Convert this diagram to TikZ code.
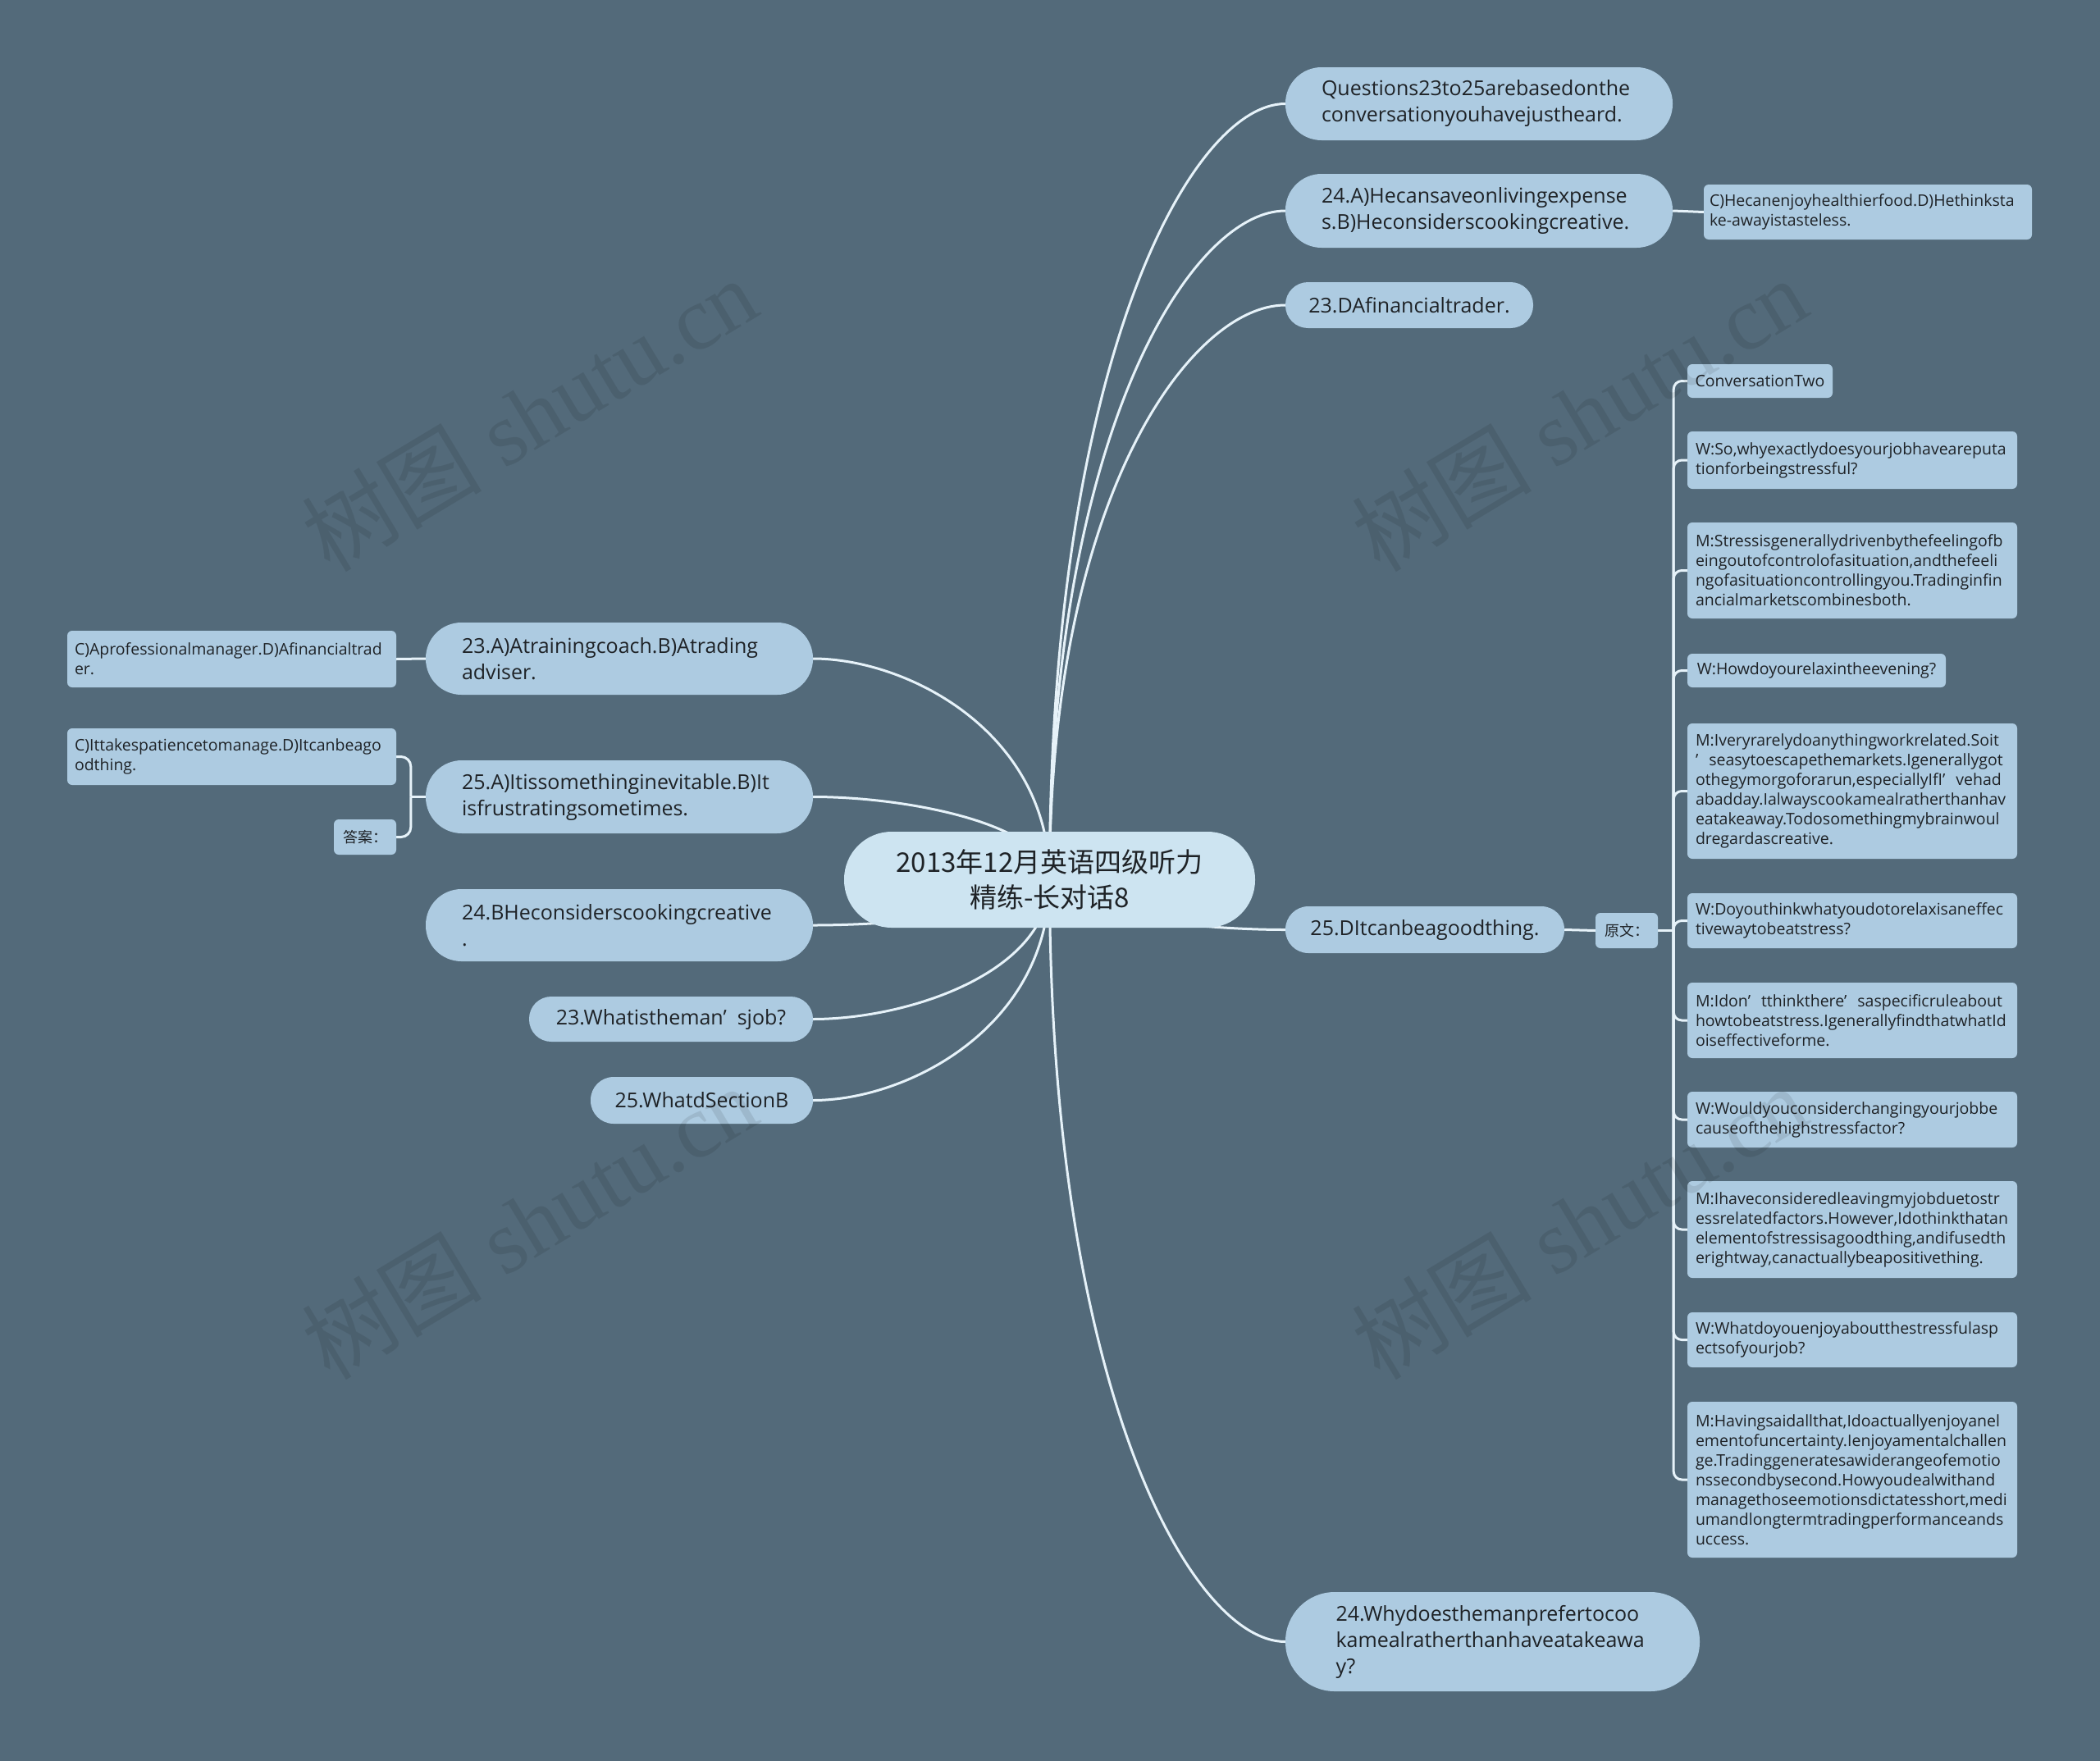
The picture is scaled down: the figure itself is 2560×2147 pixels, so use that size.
\documentclass[tikz,border=0pt]{standalone}
\usepackage{fontspec}
\setmainfont{Open Sans}
\newfontfamily\cjk{Noto Sans CJK SC}
\newfontfamily\wmserif{Liberation Serif}
\usetikzlibrary{calc}
\definecolor{bgc}{HTML}{536A7A}
\definecolor{nodec}{HTML}{ADCBE1}
\definecolor{rootc}{HTML}{CDE4F1}
\definecolor{linec}{HTML}{E6F2F9}
\definecolor{txtc}{HTML}{1E2226}
\pgfdeclarelayer{bgl}
\pgfsetlayers{bgl,main}
\newcommand\mmconn[2]{\draw[conn] (#1.center) .. controls ($(#1.center)!0.667!(#1.center|-#2)$) and ($(#1.center|-#2)!0.6!(#2)$) .. (#2);}
\tikzset{
  conn/.style={draw=linec, line width=3pt},
  mainbox/.style={fill=nodec, text=txtc, inner sep=0pt, font=\fontsize{25}{32}\selectfont, align=left},
  leafbox/.style={fill=nodec, text=txtc, inner sep=0pt, rounded corners=6pt, font=\fontsize{19.5}{24}\selectfont, align=left},
  rootbox/.style={fill=rootc, text=txtc, inner sep=0pt, rounded corners=58pt, font=\cjk\fontsize{33}{43}\selectfont, align=center},
  wm/.style={text=black, text opacity=0.09, rotate=31, font=\wmserif\fontsize{110}{110}\selectfont},
}
\begin{document}
\begin{tikzpicture}[x=1pt, y=-1pt]
\begin{pgfonlayer}{bgl}
\fill[bgc] (0,0) rectangle (2560,2147);
\end{pgfonlayer}
\useasboundingbox (0,0) rectangle (2560,2147);

% root
\node[rootbox, minimum width=501pt, minimum height=117pt] (root) at (1279.5,1072.5) {2013年12月英语四级听力\\精练-长对话8};

% right main nodes
\node[mainbox, rounded corners=44pt, minimum width=472pt, minimum height=89pt, text width=384pt] (q) at (1803,126.5) {Questions23to25arebasedonthe\\conversationyouhavejustheard.};
\node[mainbox, rounded corners=44pt, minimum width=472pt, minimum height=90pt, text width=384pt] (a24) at (1803,257) {24.A)Hecansaveonlivingexpense\\s.B)Heconsiderscookingcreative.};
\node[leafbox, minimum width=400pt, minimum height=67pt, text width=386pt] (c24) at (2277,258.5) {C)Hecanenjoyhealthierfood.D)Hethinksta\\ke-awayistasteless.};
\node[mainbox, rounded corners=27.5pt, minimum width=302pt, minimum height=56pt, align=center] (d23) at (1718,372) {23.DAfinancialtrader.};
\node[mainbox, rounded corners=28pt, minimum width=340pt, minimum height=57pt, align=center] (d25) at (1737,1133.5) {25.DItcanbeagoodthing.};
\node[leafbox, minimum width=76pt, minimum height=43pt, align=center, font=\cjk\fontsize{18}{24}\selectfont] (yw) at (1983,1134.5) {原文：};
\node[mainbox, rounded corners=60pt, minimum width=505pt, minimum height=121pt, text width=382pt] (why24) at (1819.5,2001.5) {24.Whydoesthemanprefertocoo\\kamealratherthanhaveatakeawa\\y?};

% right leaves
\node[leafbox, minimum width=177pt, minimum height=41pt, align=center] (ct) at (2145.5,464.5) {ConversationTwo};
\node[leafbox, minimum width=402pt, minimum height=70pt, text width=382pt] (wso) at (2258,561) {W:So,whyexactlydoesyourjobhaveareputa\\tionforbeingstressful?};
\node[leafbox, minimum width=402pt, minimum height=117pt, text width=382pt] (mst) at (2258,695.5) {M:Stressisgenerallydrivenbythefeelingofb\\eingoutofcontrolofasituation,andthefeeli\\ngofasituationcontrollingyou.Tradinginfin\\ancialmarketscombinesboth.};
\node[leafbox, minimum width=315pt, minimum height=41pt, align=center] (whow) at (2214.5,817.5) {W:Howdoyourelaxintheevening?};
\node[leafbox, minimum width=402pt, minimum height=165pt, text width=382pt] (mivery) at (2258,964.5) {M:Iveryrarelydoanythingworkrelated.Soit\\’\ \ seasytoescapethemarkets.Igenerallygot\\othegymorgoforarun,especiallyIfI’\ \ vehad\\abadday.Ialwayscookamealratherthanhav\\eatakeaway.Todosomethingmybrainwoul\\dregardascreative.};
\node[leafbox, minimum width=402pt, minimum height=67pt, text width=382pt] (wdo) at (2258,1122.5) {W:Doyouthinkwhatyoudotorelaxisaneffec\\tivewaytobeatstress?};
\node[leafbox, minimum width=402pt, minimum height=92pt, text width=382pt] (midon) at (2258,1244) {M:Idon’\ \ tthinkthere’\ \ saspecificruleabout\\howtobeatstress.IgenerallyfindthatwhatId\\oiseffectiveforme.};
\node[leafbox, minimum width=402pt, minimum height=68pt, text width=382pt] (wwould) at (2258,1365) {W:Wouldyouconsiderchangingyourjobbe\\causeofthehighstressfactor?};
\node[leafbox, minimum width=402pt, minimum height=118pt, text width=382pt] (mihave) at (2258,1499) {M:Ihaveconsideredleavingmyjobduetostr\\essrelatedfactors.However,Idothinkthatan\\elementofstressisagoodthing,andifusedth\\erightway,canactuallybeapositivething.};
\node[leafbox, minimum width=402pt, minimum height=67pt, text width=382pt] (wwhat) at (2258,1633.5) {W:Whatdoyouenjoyaboutthestressfulasp\\ectsofyourjob?};
\node[leafbox, minimum width=402pt, minimum height=190pt, text width=382pt] (mhaving) at (2258,1804) {M:Havingsaidallthat,Idoactuallyenjoyanel\\ementofuncertainty.Ienjoyamentalchallen\\ge.Tradinggeneratesawiderangeofemotio\\nssecondbysecond.Howyoudealwithand\\managethoseemotionsdictatesshort,medi\\umandlongtermtradingperformanceands\\uccess.};

% left main nodes
\node[mainbox, rounded corners=43.5pt, minimum width=472pt, minimum height=88pt, text width=384pt] (a23) at (755,803) {23.A)Atrainingcoach.B)Atrading\\adviser.};
\node[leafbox, minimum width=401pt, minimum height=69pt, text width=383pt] (cap) at (282.5,803.5) {C)Aprofessionalmanager.D)Afinancialtrad\\er.};
\node[mainbox, rounded corners=44pt, minimum width=472pt, minimum height=89pt, text width=384pt] (a25) at (755,971.5) {25.A)Itissomethinginevitable.B)It\\isfrustratingsometimes.};
\node[leafbox, minimum width=401pt, minimum height=69pt, text width=383pt] (cit) at (282.5,922.5) {C)Ittakespatiencetomanage.D)Itcanbeago\\odthing.};
\node[leafbox, minimum width=76pt, minimum height=43pt, align=center, font=\cjk\fontsize{18}{24}\selectfont] (daan) at (445,1020.5) {答案：};
\node[mainbox, rounded corners=43.5pt, minimum width=472pt, minimum height=88pt, text width=384pt] (b24) at (755,1128) {24.BHeconsiderscookingcreative\\.};
\node[mainbox, rounded corners=27pt, minimum width=346pt, minimum height=55pt, align=center] (w23) at (818,1242.5) {23.Whatistheman’\ \ sjob?};
\node[mainbox, rounded corners=28pt, minimum width=271pt, minimum height=57pt, align=center] (w25) at (855.5,1341.5) {25.WhatdSectionB};

\coordinate (yj) at ($(yw.east)+(19,0)$);
\coordinate (lj) at ($(a25.west)+(-18,0)$);

\begin{pgfonlayer}{bgl}
\mmconn{root}{q.west}
\mmconn{root}{a24.west}
\mmconn{root}{d23.west}
\mmconn{root}{d25.west}
\mmconn{root}{why24.west}
\mmconn{root}{a23.east}
\mmconn{root}{a25.east}
\mmconn{root}{b24.east}
\mmconn{root}{w23.east}
\mmconn{root}{w25.east}
\draw[conn] (a24.east) -- (c24.west);
\draw[conn] (d25.east) -- (yw.west);
\draw[conn] (yw.east) -- (yj);
\foreach \n in {ct,wso,mst,whow,mivery,wdo,midon,wwould,mihave,wwhat,mhaving}
  \draw[conn, rounded corners=10pt] (yj) |- (\n.west);
\draw[conn] (a23.west) -- (cap.east);
\draw[conn] (a25.west) -- (lj);
\draw[conn, rounded corners=12pt] (lj) |- (cit.east);
\draw[conn, rounded corners=12pt] (lj) |- (daan.east);
\end{pgfonlayer}

% watermarks
\node[wm] (wm1) at (645,505) {{\cjk 树图} shutu.cn};
\node[wm] (wm2) at (1925,505) {{\cjk 树图} shutu.cn};
\node[wm] (wm3) at (645,1490) {{\cjk 树图} shutu.cn};
\node[wm] (wm4) at (1925,1490) {{\cjk 树图} shutu.cn};
\end{tikzpicture}
\end{document}
